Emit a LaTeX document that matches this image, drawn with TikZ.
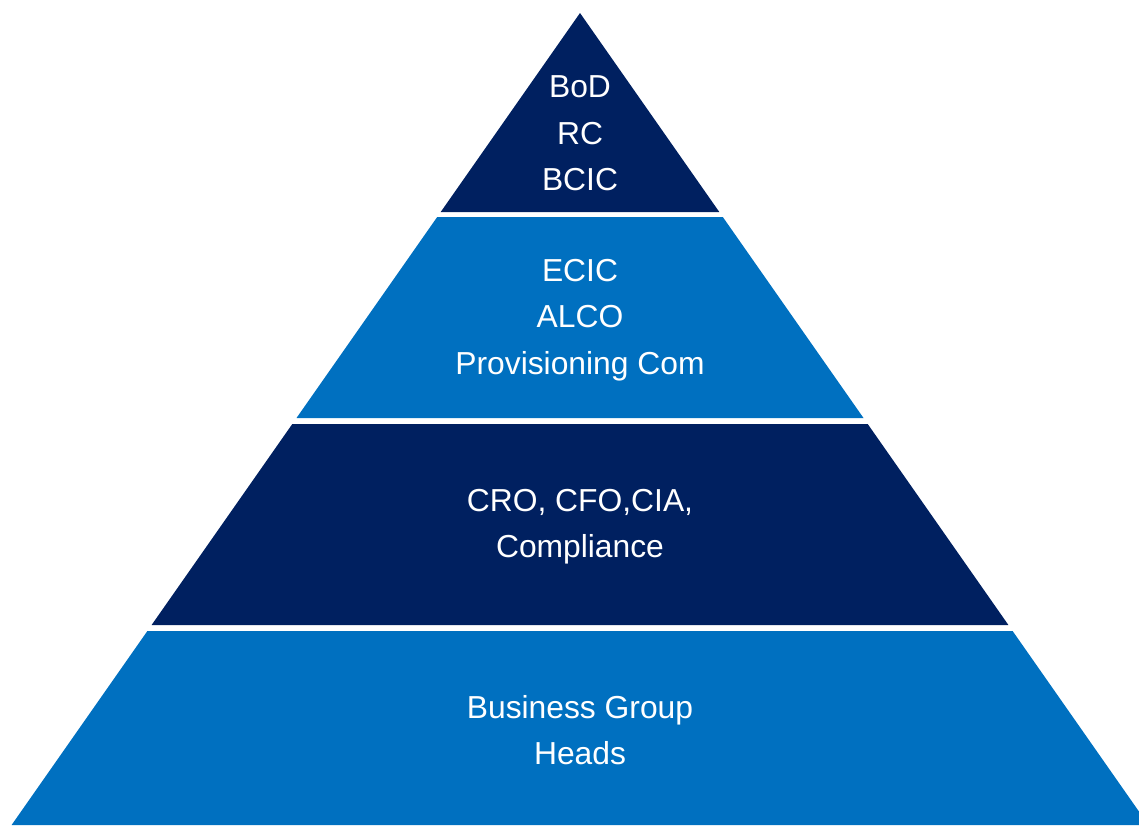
\documentclass[tikz,border=0pt]{standalone}
\usepackage{fontspec}
\setmainfont{Liberation Sans}
\usepackage{tikz}
\usetikzlibrary{calc}
\usetikzlibrary{positioning}

\definecolor{navy}{RGB}{0,32,96}
\definecolor{azure}{RGB}{0,112,192}

\newcommand\apexx{580}
\newcommand\apexy{13}
\newcommand\slope{0.7}
\newcommand\tier[3]{
  \pgfmathsetmacro\topl{\apexx-\slope*(#1-\apexy)}
  \pgfmathsetmacro\topr{\apexx+\slope*(#1-\apexy)}
  \pgfmathsetmacro\botl{\apexx-\slope*(#2-\apexy)}
  \pgfmathsetmacro\botr{\apexx+\slope*(#2-\apexy)}
  \fill[#3] (\topl,#1) -- (\topr,#1) -- (\botr,#2) -- (\botl,#2) -- cycle;
}

\begin{document}
\begin{tikzpicture}[x=1pt,y=-1pt,
  tiertext/.style={text=white,align=center,font=\fontsize{31.8}{46.3}\selectfont}]
  %
  \useasboundingbox (0,0) rectangle (1139,825);

  \foreach \ytop/\ybot/\col in {13/212/navy,217/418/azure,424/625/navy,631/825/azure} {
    \tier{\ytop}{\ybot}{\col}
  }

  \node[tiertext] (board) at (580,133.5) {BoD\\RC\\BCIC};
  \node[tiertext] (committees) at (580,320) {ECIC\\ALCO\\Provisioning Com};
  \node[tiertext] (officers) at (580,527) {CRO, CFO,CIA,\\Compliance};
  \node[tiertext] (heads) at (580,730) {Business Group\\Heads};

\end{tikzpicture}
\end{document}
